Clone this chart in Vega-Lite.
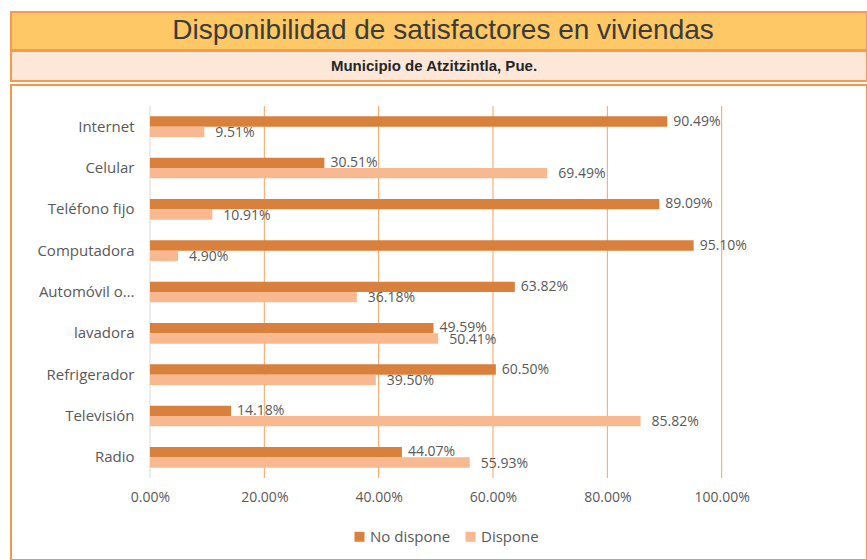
{
  "$schema": "https://vega.github.io/schema/vega-lite/v6.json",
  "background": "white",
  "padding": {"left": 10, "top": 11, "right": 0, "bottom": 0},
  "spacing": 2,
  "config": {"font": "Open Sans", "view": {"stroke": null}},
  "vconcat": [
    {
      "spacing": -2,
      "vconcat": [
        {
          "width": 856,
          "height": 38,
          "view": {"fill": "#FEC866", "stroke": "#F79A4E", "strokeWidth": 2},
          "data": {"values": [{"t": "Disponibilidad de satisfactores en viviendas"}]},
          "mark": {"type": "text", "font": "Liberation Sans", "fontSize": 28, "color": "#3B3B3B", "align": "center", "baseline": "middle", "dx": 4},
          "encoding": {"text": {"field": "t"}}
        },
        {
          "width": 856,
          "height": 30,
          "view": {"fill": "#FCE7D9", "stroke": "#F79A4E", "strokeWidth": 2},
          "data": {"values": [{"t": "Municipio de Atzitzintla, Pue."}]},
          "mark": {"type": "text", "font": "Liberation Sans", "fontSize": 15, "fontWeight": "bold", "color": "#262626", "align": "center", "baseline": "middle", "dx": -5},
          "encoding": {"text": {"field": "t"}}
        }
      ]
    },
    {
      "width": 856,
      "height": 475,
      "view": {"fill": "white", "stroke": "#F79646", "strokeWidth": 2},
      "data": {"values": [
        {"cat": "Internet", "serie": "No dispone", "v": 0.9049},
        {"cat": "Internet", "serie": "Dispone", "v": 0.0951},
        {"cat": "Celular", "serie": "No dispone", "v": 0.3051},
        {"cat": "Celular", "serie": "Dispone", "v": 0.6949},
        {"cat": "Teléfono fijo", "serie": "No dispone", "v": 0.8909},
        {"cat": "Teléfono fijo", "serie": "Dispone", "v": 0.1091},
        {"cat": "Computadora", "serie": "No dispone", "v": 0.9510},
        {"cat": "Computadora", "serie": "Dispone", "v": 0.0490},
        {"cat": "Automóvil o…", "serie": "No dispone", "v": 0.6382},
        {"cat": "Automóvil o…", "serie": "Dispone", "v": 0.3618},
        {"cat": "lavadora", "serie": "No dispone", "v": 0.4959},
        {"cat": "lavadora", "serie": "Dispone", "v": 0.5041},
        {"cat": "Refrigerador", "serie": "No dispone", "v": 0.6050},
        {"cat": "Refrigerador", "serie": "Dispone", "v": 0.3950},
        {"cat": "Televisión", "serie": "No dispone", "v": 0.1418},
        {"cat": "Televisión", "serie": "Dispone", "v": 0.8582},
        {"cat": "Radio", "serie": "No dispone", "v": 0.4407},
        {"cat": "Radio", "serie": "Dispone", "v": 0.5593}
      ]},
      "encoding": {
        "x": {
          "field": "v",
          "type": "quantitative",
          "scale": {"domain": [-0.2431, 1.2542], "nice": false, "zero": false},
          "axis": {"orient": "bottom", "offset": -81, "values": [0, 0.2, 0.4, 0.6, 0.8, 1], "format": ".2%", "grid": false, "domain": false, "ticks": false, "labelPadding": 11, "labelFontSize": 14, "labelColor": "#595959", "labelFont": "Open Sans", "title": null}
        }
      },
      "layer": [
        {
          "data": {"values": [{"v": 0}, {"v": 0.2}, {"v": 0.4}, {"v": 0.6}, {"v": 0.8}, {"v": 1}]},
          "mark": {"type": "rule", "strokeWidth": 1},
          "encoding": {
            "y": {"datum": "Internet", "type": "nominal", "bandPosition": 0},
            "y2": {"datum": "Radio", "bandPosition": 1},
            "color": {"condition": {"test": "datum.v === 0", "value": "#D9D9D9"}, "value": "#F5A35E"}
          }
        },
        {
          "mark": {"type": "bar"},
          "encoding": {
            "x2": {"datum": 0},
            "y": {
              "field": "cat",
              "type": "nominal",
              "sort": null,
              "scale": {"domain": ["Internet", "Celular", "Teléfono fijo", "Computadora", "Automóvil o…", "lavadora", "Refrigerador", "Televisión", "Radio"], "range": [21, 393], "paddingInner": 0, "paddingOuter": 0},
              "axis": {"orient": "left", "offset": -139, "domain": false, "ticks": false, "grid": false, "labelPadding": 16, "labelFontSize": 15, "labelColor": "#595959", "labelFont": "Open Sans", "title": null}
            },
            "yOffset": {"field": "serie", "type": "nominal", "scale": {"domain": ["No dispone", "Dispone"], "paddingInner": 0, "paddingOuter": 1}},
            "color": {
              "field": "serie",
              "type": "nominal",
              "scale": {"domain": ["No dispone", "Dispone"], "range": ["#D9803D", "#F8B990"]},
              "legend": {"title": null, "orient": "none", "legendX": 341, "legendY": 517, "direction": "horizontal", "symbolType": "square", "symbolSize": 100, "symbolStrokeWidth": 0, "labelFontSize": 15, "labelColor": "#595959", "labelFont": "Open Sans", "columnPadding": 12, "labelOffset": 3}
            }
          }
        },
        {
          "transform": [{"filter": "datum.serie === 'No dispone'"}],
          "mark": {"type": "text", "align": "left", "baseline": "middle", "dx": 6, "fontSize": 14, "color": "#595959", "font": "Open Sans"},
          "encoding": {
            "y": {"field": "cat", "type": "nominal", "sort": null},
            "yOffset": {"field": "serie", "type": "nominal"},
            "text": {"field": "v", "type": "quantitative", "format": ".2%"}
          }
        },
        {
          "transform": [{"filter": "datum.serie === 'Dispone'"}],
          "mark": {"type": "text", "align": "left", "baseline": "middle", "dx": 11, "dy": 1, "fontSize": 14, "color": "#595959", "font": "Open Sans"},
          "encoding": {
            "y": {"field": "cat", "type": "nominal", "sort": null},
            "yOffset": {"field": "serie", "type": "nominal"},
            "text": {"field": "v", "type": "quantitative", "format": ".2%"}
          }
        }
      ]
    }
  ]
}
